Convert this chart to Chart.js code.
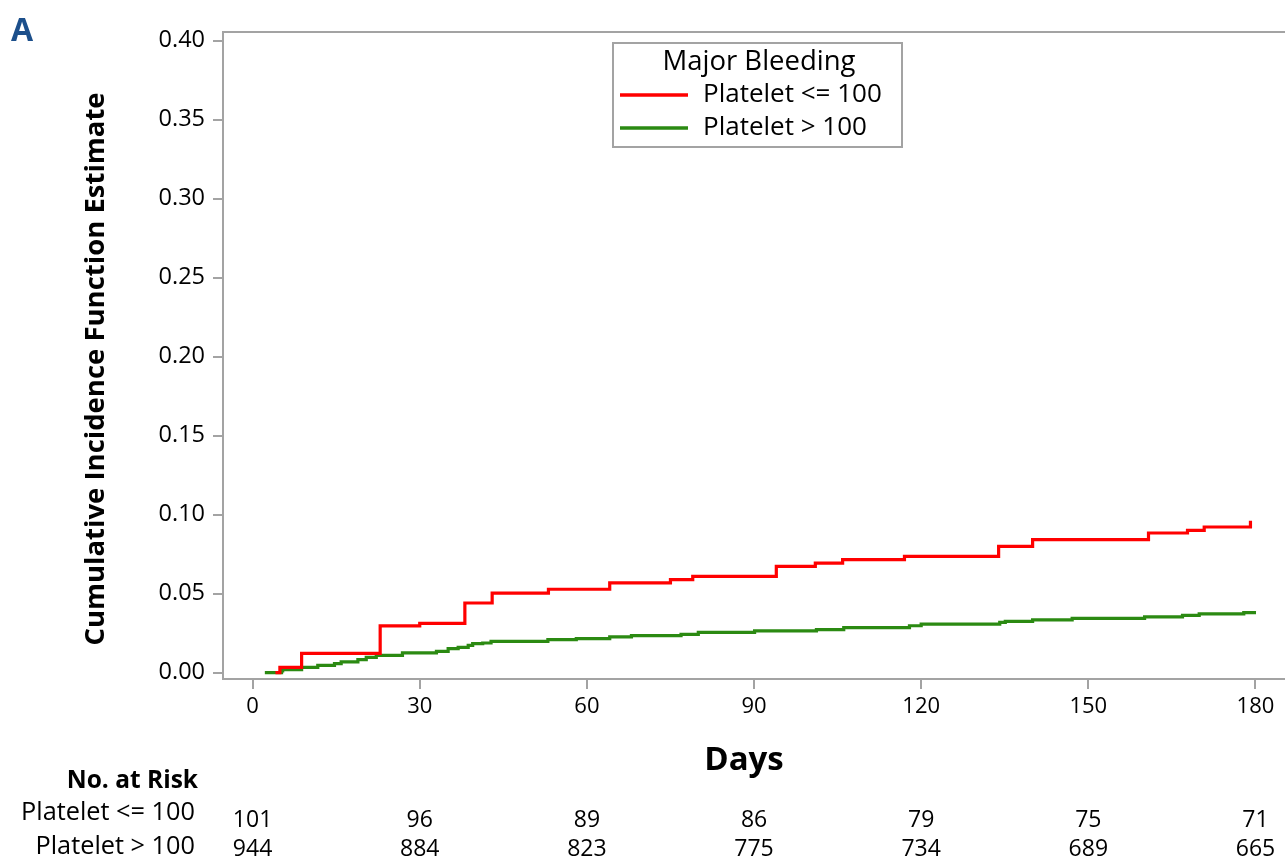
<!DOCTYPE html>
<html>
<head>
<meta charset="utf-8">
<title>Major Bleeding - Cumulative Incidence</title>
<script src="https://cdn.jsdelivr.net/npm/chart.js@4/dist/chart.umd.min.js"></script>
<style>
  html, body { margin: 0; padding: 0; background: #fff; }
  #chart { display: block; }
</style>
</head>
<body>
<canvas id="chart" width="1285" height="862"></canvas>
<script>
// values (day of step, CIF after the step)
const seriesLabels = ['Platelet <= 100', 'Platelet > 100'];
const seriesColors = ['#ff0000', '#2b8a12'];

const redDays = [4.1, 4.9, 8.8, 22.9, 30.0, 38.1, 43.0, 53.1, 64.1, 75.0, 79.0, 94.0,
  101.0, 105.9, 117.0, 133.9, 140.0, 160.8, 167.8, 170.8, 179.1, 179.1];
const redCif = [0, 0.0034, 0.0122, 0.0296, 0.0312, 0.0441, 0.0504, 0.0528, 0.0568, 0.0589, 0.0609, 0.0673,
  0.0694, 0.0715, 0.0736, 0.0799, 0.0842, 0.0884, 0.0901, 0.0922, 0.0922, 0.0962];

const greenDays = [2.2, 5.2, 5.4, 8.8, 11.7, 14.7, 15.9, 18.9, 20.4, 22.2, 26.9, 33.0, 35.1, 36.9,
  38.7, 39.5, 41.3, 42.8, 53.0, 58.1, 64.1, 68.0, 76.9, 80.0, 90.1, 101.2, 106.1, 117.9,
  120.0, 134.1, 135.1, 140.0, 147.1, 160.1, 166.9, 169.9, 177.9, 180.1];
const greenCif = [0, 0.0011, 0.0019, 0.0034, 0.0046, 0.0057, 0.0068, 0.0082, 0.0097, 0.0109, 0.0125, 0.0135, 0.0152, 0.016,
  0.0173, 0.0184, 0.0188, 0.0198, 0.0209, 0.0215, 0.0226, 0.0234, 0.0242, 0.0255, 0.0264, 0.0272, 0.0285, 0.0297,
  0.0307, 0.0318, 0.0325, 0.0334, 0.0344, 0.0353, 0.0363, 0.0372, 0.038, 0.038];

const xTicks = [0, 30, 60, 90, 120, 150, 180];
const yTicks = [0, 0.05, 0.10, 0.15, 0.20, 0.25, 0.30, 0.35, 0.40];

const riskDays = [0, 30, 60, 90, 120, 150, 180];
const riskLow = [101, 96, 89, 86, 79, 75, 71];
const riskHigh = [944, 884, 823, 775, 734, 689, 665];

const FONT = "'Open Sans', 'Noto Sans', sans-serif";
const AXIS_GRAY = '#a3a3a3';

const toPoints = (days, vals) => days.map((d, i) => ({ x: d, y: vals[i] }));

// titles, legend box, frame and risk table
const decorations = {
  id: 'decorations',
  afterDraw(chart) {
    const ctx = chart.ctx;
    const area = chart.chartArea;
    const xs = chart.scales.x;
    ctx.save();

    // top frame line
    ctx.strokeStyle = AXIS_GRAY;
    ctx.lineWidth = 2;
    ctx.beginPath();
    ctx.moveTo(area.left, area.top);
    ctx.lineTo(area.right + 2, area.top);
    ctx.stroke();

    // panel letter
    ctx.fillStyle = '#1c4f8b';
    ctx.font = `bold 32px ${FONT}`;
    ctx.textAlign = 'left';
    ctx.textBaseline = 'middle';
    ctx.fillText('A', 11, 32);

    // y title
    ctx.fillStyle = '#000';
    ctx.save();
    ctx.translate(96, 369);
    ctx.rotate(-Math.PI / 2);
    ctx.font = `bold 27.5px ${FONT}`;
    ctx.textAlign = 'center';
    ctx.fillText('Cumulative Incidence Function Estimate', 0, 0);
    ctx.restore();

    // x title
    ctx.font = `bold 33px ${FONT}`;
    ctx.textAlign = 'center';
    ctx.fillText('Days', 744, 761);

    // legend box
    const lx = 613, ly = 43, lw = 289, lh = 104;
    ctx.fillStyle = '#fff';
    ctx.fillRect(lx, ly, lw, lh);
    ctx.strokeStyle = AXIS_GRAY;
    ctx.lineWidth = 2;
    ctx.strokeRect(lx, ly, lw, lh);
    ctx.fillStyle = '#000';
    ctx.font = `27.5px ${FONT}`;
    ctx.textAlign = 'center';
    ctx.fillText('Major Bleeding', 759, 62);
    chart.data.datasets.forEach((ds, i) => {
      const y = 95 + i * 33;
      ctx.strokeStyle = ds.borderColor;
      ctx.lineWidth = 3.5;
      ctx.beginPath();
      ctx.moveTo(620, y);
      ctx.lineTo(688, y);
      ctx.stroke();
      ctx.fillStyle = '#000';
      ctx.font = `26px ${FONT}`;
      ctx.textAlign = 'left';
      ctx.fillText(ds.label, 703, y);
    });

    // number at risk
    ctx.font = `bold 24.5px ${FONT}`;
    ctx.textAlign = 'right';
    ctx.fillText('No. at Risk', 198, 781);
    ctx.font = `25.3px ${FONT}`;
    ctx.fillText(seriesLabels[0], 195, 813);
    ctx.fillText(seriesLabels[1], 195, 847);
    ctx.textAlign = 'center';
    ctx.font = `23px ${FONT}`;
    riskDays.forEach((d, i) => {
      const x = xs.getPixelForValue(d);
      ctx.fillText(String(riskLow[i]), x, 820);
      ctx.fillText(String(riskHigh[i]), x, 849);
    });

    ctx.restore();
  }
};

new Chart(document.getElementById('chart'), {
  type: 'line',
  data: {
    datasets: [
      {
        label: seriesLabels[0],
        data: toPoints(redDays, redCif),
        borderColor: seriesColors[0],
        borderWidth: 3.2,
        stepped: true,
        pointRadius: 0,
        fill: false
      },
      {
        label: seriesLabels[1],
        data: toPoints(greenDays, greenCif),
        borderColor: seriesColors[1],
        borderWidth: 3.2,
        stepped: true,
        pointRadius: 0,
        fill: false
      }
    ]
  },
  options: {
    responsive: false,
    animation: false,
    layout: { padding: { top: 32, right: 0, left: 0, bottom: 0 } },
    plugins: {
      legend: { display: false },
      tooltip: { enabled: false }
    },
    scales: {
      x: {
        type: 'linear',
        min: -5.31,
        max: 185.3,
        afterBuildTicks: (s) => { s.ticks = xTicks.map(v => ({ value: v })); },
        afterFit: (s) => { s.height = 183; },
        grid: { drawOnChartArea: false, drawTicks: true, tickLength: 10, color: AXIS_GRAY, lineWidth: 2 },
        border: { display: true, color: AXIS_GRAY, width: 2 },
        ticks: {
          color: '#000',
          padding: 5,
          maxRotation: 0,
          font: { family: FONT, size: 22 },
          callback: (v) => String(v)
        }
      },
      y: {
        min: -0.004,
        max: 0.4055,
        afterBuildTicks: (s) => { s.ticks = yTicks.map(v => ({ value: v })); },
        afterFit: (s) => { s.width = 223; },
        grid: { drawOnChartArea: false, drawTicks: true, tickLength: 10, color: AXIS_GRAY, lineWidth: 2 },
        border: { display: true, color: AXIS_GRAY, width: 2 },
        ticks: {
          color: '#000',
          padding: 8,
          font: { family: FONT, size: 23.5 },
          callback: (v) => v.toFixed(2)
        }
      }
    }
  },
  plugins: [decorations]
});
</script>
</body>
</html>
